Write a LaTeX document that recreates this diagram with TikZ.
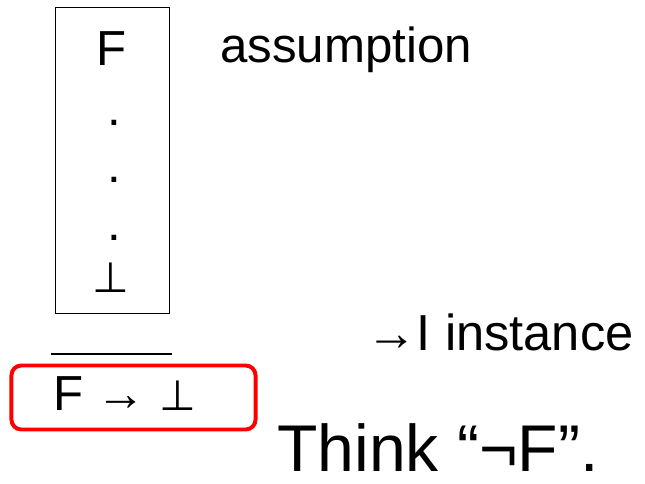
\documentclass[tikz,border=0pt]{standalone}
\usepackage{fontspec}
\setmainfont{Liberation Sans}
\newfontfamily\symfam{DejaVu Sans}
\usepackage{tikz}
\usetikzlibrary{positioning}

\begin{document}
\begin{tikzpicture}[
        x=0.025cm, y=-0.025cm,
        big/.style={font=\fontsize{35}{42}\selectfont, inner sep=0pt},
        huge/.style={font=\fontsize{47}{56}\selectfont, inner sep=0pt},
        hypbox/.style={draw, line width=0.8pt, minimum width=2.83cm, minimum height=7.63cm},
        redbox/.style={draw=red, line width=2.8pt, rounded corners=7pt, minimum width=6.1cm, minimum height=1.6cm},
        rule/.style={line width=2pt}
    ]
        \useasboundingbox (0,0) rectangle (645,484);
        % boxed hypothesis
        \node[hypbox] (hyp) at (112.5,160.5) {};
        \node[big, anchor=base] (f) at (112,66) {F};
        \node[big, anchor=base] (d1) at (114,126) {.};
        \node[big, anchor=base] (d2) at (114,183) {.};
        \node[big, anchor=base] (d3) at (114,241) {.};
        \node[big, anchor=base, font=\symfam\fontsize{30}{36}\selectfont] (bot) at (111,293) {⊥};
        \node[big, anchor=base west] (assume) at (220,63) {assumption};
        % inference bar
        \coordinate (barl) at (51,354);
        \coordinate (barr) at (172,354);
        \draw[rule] (barl) -- (barr);
        \node[big, anchor=base west, font=\fontsize{36}{42}\selectfont] (rulename) at (366,351) {→I instance};
        % conclusion
        \node[redbox] (mark) at (133.5,397.5) {};
        \node[big, anchor=base west] (concl) at (53,411) {F → {\symfam\fontsize{30}{36}\selectfont ⊥}};
        \node[huge, anchor=base west] (think) at (277,472) {Think “¬F”.};
    \end{tikzpicture}
\end{document}
